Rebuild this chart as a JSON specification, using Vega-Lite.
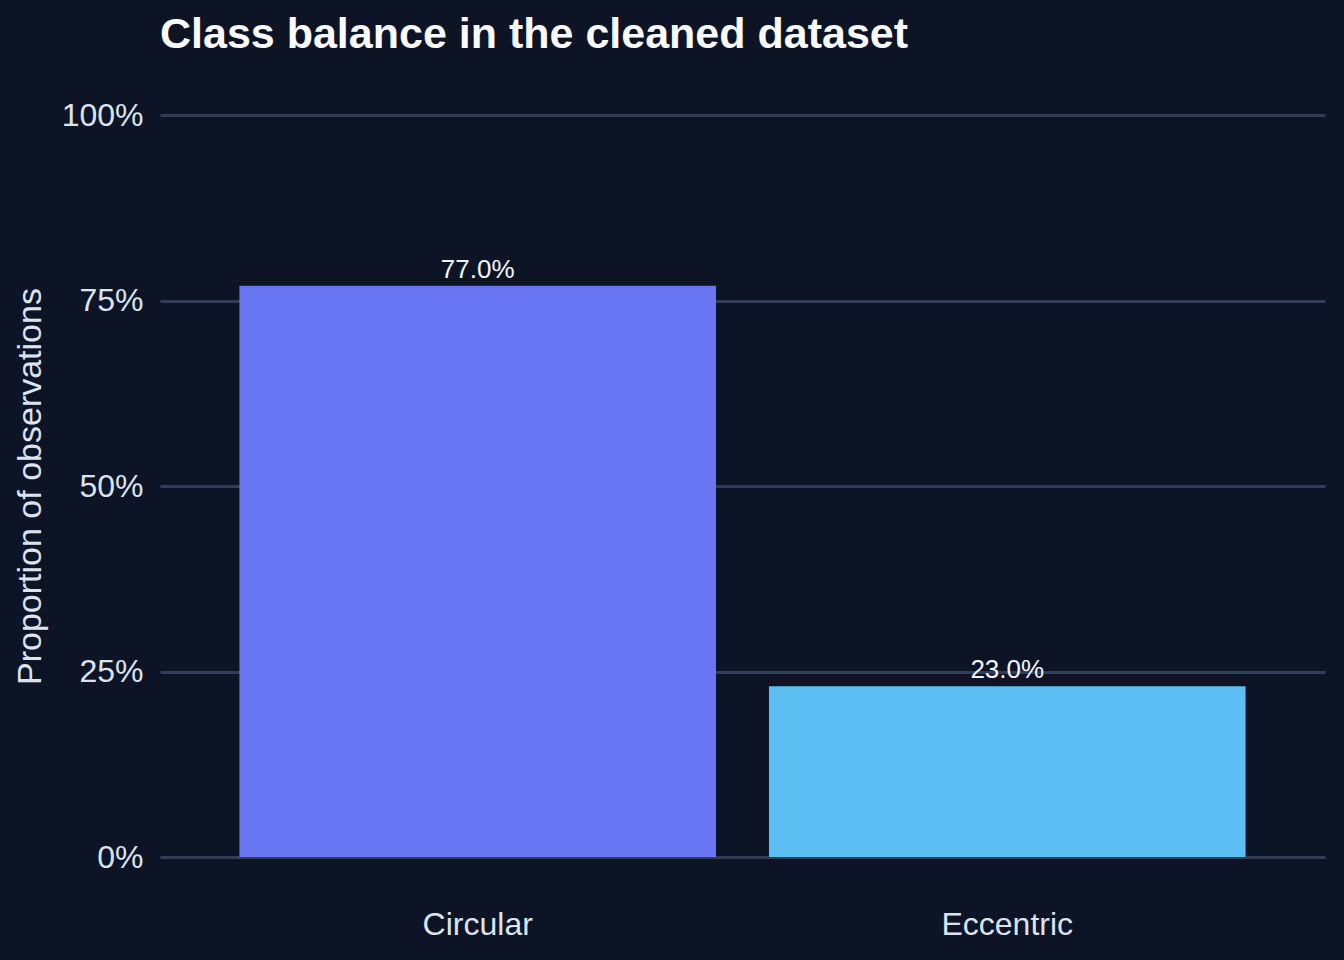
{
  "$schema": "https://vega.github.io/schema/vega-lite/v6.json",
  "width": 1165,
  "height": 742,
  "autosize": "none",
  "padding": {"left": 160, "top": 115, "right": 19, "bottom": 103},
  "background": "#0d1426",
  "config": {
    "view": {"stroke": null},
    "font": "Liberation Sans"
  },
  "title": {
    "text": "Class balance in the cleaned dataset",
    "anchor": "start",
    "frame": "group",
    "font": "Liberation Sans",
    "fontSize": 43,
    "fontWeight": "bold",
    "color": "#f8fafc",
    "baseline": "alphabetic",
    "offset": 8
  },
  "data": {
    "values": [
      {"class": "Circular", "proportion": 0.77},
      {"class": "Eccentric", "proportion": 0.23}
    ]
  },
  "encoding": {
    "x": {
      "field": "class",
      "type": "nominal",
      "sort": ["Circular", "Eccentric"],
      "scale": {"paddingInner": 0.1, "paddingOuter": 0.15},
      "axis": {
        "title": null,
        "labelAngle": 0,
        "labelFontSize": 32,
        "labelColor": "#dbe3ee",
        "labelBaseline": "alphabetic",
        "labelPadding": 77,
        "ticks": false,
        "tickSize": 0,
        "domain": false,
        "grid": false
      }
    },
    "y": {
      "field": "proportion",
      "type": "quantitative",
      "scale": {"domain": [0, 1], "nice": false, "zero": true},
      "axis": {
        "title": "Proportion of observations",
        "titleFontSize": 34,
        "titleFontWeight": "normal",
        "titleColor": "#dbe3ee",
        "titlePadding": 14,
        "values": [0, 0.25, 0.5, 0.75, 1],
        "format": ".0%",
        "labelFontSize": 32,
        "labelColor": "#dbe3ee",
        "labelPadding": 17,
        "ticks": false,
        "tickSize": 0,
        "domain": false,
        "grid": true,
        "gridColor": "#313c58",
        "gridWidth": 3
      }
    }
  },
  "layer": [
    {
      "mark": {"type": "bar"},
      "encoding": {
        "color": {
          "field": "class",
          "type": "nominal",
          "scale": {"domain": ["Circular", "Eccentric"], "range": ["#6976f3", "#5bbff3"]},
          "legend": null
        }
      }
    },
    {
      "mark": {"type": "text", "baseline": "alphabetic", "dy": -8, "fontSize": 26, "color": "#f1f5f9"},
      "encoding": {
        "text": {"field": "proportion", "type": "quantitative", "format": ".1%"}
      }
    }
  ]
}
